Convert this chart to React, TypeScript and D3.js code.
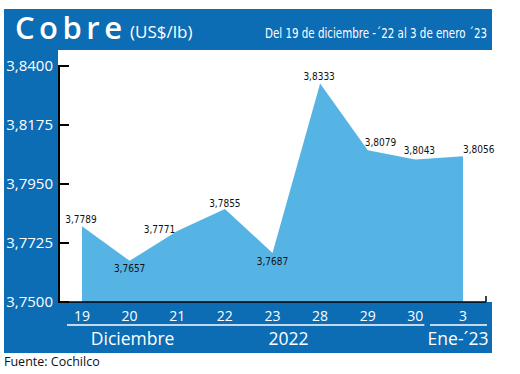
import React from "react";
import * as d3 from "d3";

// data
const categories = ["19", "20", "21", "22", "23", "28", "29", "30", "3"];
const values = [3.7789, 3.7657, 3.7771, 3.7855, 3.7687, 3.8333, 3.8079, 3.8043, 3.8056];
const yTicks = [3.75, 3.7725, 3.795, 3.8175, 3.84];
const title = "Cobre";
const unit = "(US$/lb)";
const subtitle = "Del 19 de diciembre -´22 al 3 de enero ´23";
const source = "Fuente: Cochilco";

// label placement next to each point: [dx, dy, anchor]
const labelPlacement: [number, number, string][] = [
	[-1, -3, "middle"],
	[0, 11, "middle"],
	[-2, 2, "end"],
	[0, -2, "middle"],
	[0, 12, "middle"],
	[-1, -4, "middle"],
	[-3, -4, "start"],
	[4, -6, "middle"],
	[0, -3, "start"],
];

const BLUE = "#0c6cb4";
const AREA = "#56b4e4";
const narrow = "'DejaVu Sans Condensed', 'DejaVu Sans', sans-serif";
const sans = "'Open Sans', 'Noto Sans', sans-serif";

const esLocale = d3.formatLocale({
	decimal: ",",
	thousands: ".",
	grouping: [3],
	currency: ["$", ""],
});
const fmt = esLocale.format(".4f");

export default function App() {
	const width = 520;
	const height = 374;

	// frame
	const frameLeft = 4;
	const frameRight = 492;
	const frameTop = 9;
	const frameBottom = 353;
	const plotLeft = 58;
	const plotTop = 50;
	const plotBottom = 302;

	const x = d3.scalePoint<string>().domain(categories).range([82, 463]);
	const y = d3.scaleLinear().domain([3.75, 3.84]).range([plotBottom, 66]);

	const area = d3
		.area<number>()
		.x((_, i) => x(categories[i]) || 0)
		.y0(y(3.75))
		.y1((d) => y(d));

	const axisX = plotLeft + 1;

	return (
		<svg
			width={width}
			height={height}
			style={{ position: "absolute", left: 0, top: 0, background: "#fff" }}
		>
			{/* blue frame and white plot panel */}
			<rect
				x={frameLeft}
				y={frameTop}
				width={frameRight - frameLeft}
				height={frameBottom - frameTop}
				fill={BLUE}
			/>
			<rect
				x={plotLeft}
				y={plotTop}
				width={frameRight - plotLeft}
				height={plotBottom - plotTop}
				fill="#fff"
			/>

			{/* header */}
			<text
				x={15}
				y={39}
				fill="#fff"
				fontFamily={sans}
				fontWeight={600}
				fontSize={31}
				textLength={107}
				lengthAdjust="spacing"
			>
				{title}
			</text>
			<text x={130} y={38} fill="#fff" fontFamily={sans} fontSize={17}>
				{unit}
			</text>
			<text
				x={265}
				y={38}
				fill="#fff"
				fontFamily={narrow}
				fontSize={14}
				style={{ fontStretch: "condensed" }}
				textLength={222}
				lengthAdjust="spacingAndGlyphs"
			>
				{subtitle}
			</text>

			{/* area */}
			<path d={area(values) || undefined} fill={AREA} />

			{/* value labels */}
			<g fontFamily={narrow} fontSize={10} fill="#111" style={{ fontStretch: "condensed" }}>
				{values.map((v, i) => {
					const [dx, dy, anchor] = labelPlacement[i];
					return (
						<text
							key={i}
							x={(x(categories[i]) || 0) + dx}
							y={y(v) + dy}
							textAnchor={anchor}
						>
							{fmt(v)}
						</text>
					);
				})}
			</g>

			{/* y axis */}
			<line x1={axisX} x2={axisX} y1={y(3.84) - 1} y2={plotBottom + 1} stroke="#000" strokeWidth={2} />
			{yTicks.map((t) => (
				<g key={t}>
					<line x1={axisX} x2={axisX + 10} y1={y(t)} y2={y(t)} stroke="#000" strokeWidth={2} />
					<text
						x={53}
						y={y(t)}
						dy="0.36em"
						textAnchor="end"
						fill="#fff"
						fontFamily={sans}
						fontSize={15}
					>
						{fmt(t)}
					</text>
				</g>
			))}

			{/* x axis */}
			<line x1={axisX} x2={486} y1={plotBottom} y2={plotBottom} stroke="#000" strokeWidth={1.5} />
			<line x1={486} x2={486} y1={plotBottom - 6} y2={plotBottom} stroke="#000" strokeWidth={1.5} />
			<g fill="#fff" fontFamily={sans} fontSize={14} textAnchor="middle">
				{categories.map((c) => (
					<text key={c} x={x(c)} y={321}>
						{c}
					</text>
				))}
			</g>

			{/* period separators */}
			<line
				x1={(x("19") || 0) - 15}
				x2={(x("30") || 0) + 9}
				y1={325}
				y2={325}
				stroke="#fff"
				strokeWidth={1.5}
			/>
			<line
				x1={(x("3") || 0) - 33}
				x2={(x("3") || 0) + 24}
				y1={325}
				y2={325}
				stroke="#fff"
				strokeWidth={1.5}
			/>
			<g fill="#fff" fontFamily={sans} fontSize={17.5} textAnchor="middle">
				<text x={(x("20") || 0) + 3} y={345}>
					Diciembre
				</text>
				<text x={(x("23") || 0) + 16} y={345}>
					2022
				</text>
				<text x={(x("3") || 0) - 5} y={345}>
					Ene-´23
				</text>
			</g>

			{/* source */}
			<text x={4} y={366} fill="#111" fontFamily={sans} fontSize={12.5}>
				{source}
			</text>
		</svg>
	);
}
